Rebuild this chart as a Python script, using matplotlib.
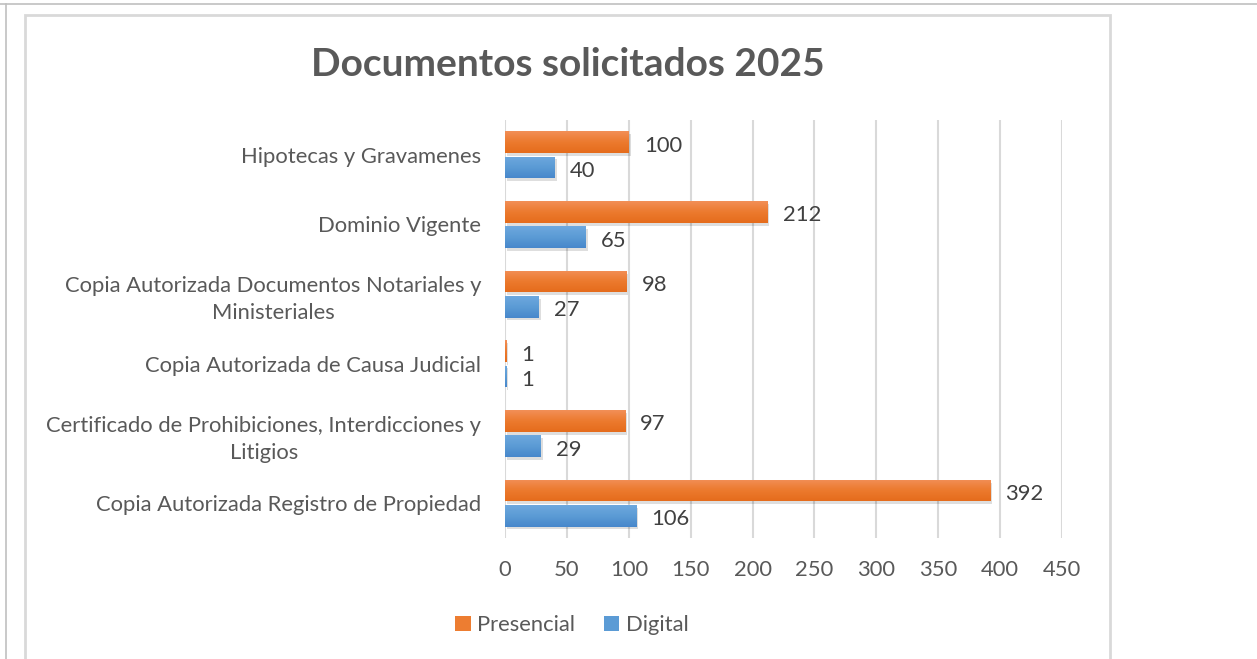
import numpy as np
import matplotlib.pyplot as plt
import matplotlib.patheffects as pe
from matplotlib.patches import Rectangle, Patch
from matplotlib.lines import Line2D
from matplotlib.colors import LinearSegmentedColormap

plt.rcParams['font.family'] = ['Lato', 'DejaVu Sans']

# data, top to bottom as in the chart
categorias = ['Hipotecas y Gravamenes',
              'Dominio Vigente',
              'Copia Autorizada Documentos Notariales y\nMinisteriales',
              'Copia Autorizada de Causa Judicial',
              'Certificado de Prohibiciones, Interdicciones y\nLitigios',
              'Copia Autorizada Registro de Propiedad']
presencial = [100, 212, 98, 1, 97, 392]
digital = [40, 65, 27, 1, 29, 106]
ticks_x = [0, 50, 100, 150, 200, 250, 300, 350, 400, 450]

W, H = 1257, 659
fs = 15.8
fig = plt.figure(figsize=(W / 100, H / 100), dpi=100)
fig.patch.set_facecolor('white')

# frames
fig.add_artist(Line2D([0, 1], [1 - 4 / H, 1 - 4 / H], transform=fig.transFigure, color='#c0c0c0', lw=1.2))
fig.add_artist(Line2D([6 / W, 6 / W], [0, 1 - 4 / H], transform=fig.transFigure, color='#c0c0c0', lw=1.2))
fig.add_artist(Rectangle((25 / W, -0.05), (1110 - 25) / W, 1.05 - 15 / H, transform=fig.transFigure,
                         fill=False, edgecolor='#d9d9d9', lw=2))

ax = fig.add_axes([505 / W, 1 - 538 / H, (1062 - 505) / W, (538 - 120) / H])
n = len(categorias)
y = np.arange(n)
off = 0.18
h = 0.31

cmap_o = LinearSegmentedColormap.from_list('o', ['#f28f57', '#ec7a2e', '#e56c1c'])
cmap_b = LinearSegmentedColormap.from_list('b', ['#6ea8de', '#5b9bd5', '#4787cb'])
grad = np.linspace(0, 1, 64).reshape(-1, 1)

shadow = [pe.SimplePatchShadow(offset=(1.5, -2), shadow_rgbFace='#000000', alpha=0.13), pe.Normal()]

def barras(vals, ys, color, cmap):
    bars = ax.barh(ys, vals, height=h, color=color, lw=0, zorder=3, path_effects=shadow)
    for b, v in zip(bars, vals):
        x0, y0 = b.get_x(), b.get_y()
        im = ax.imshow(grad, extent=(x0, x0 + b.get_width(), y0 + b.get_height(), y0),
                       cmap=cmap, aspect='auto', zorder=4, origin='upper')
        im.set_clip_path(b)
        ax.annotate(str(v), (v, b.get_y() + b.get_height() / 2), xytext=(11, -2.5),
                    textcoords='offset points', va='center', ha='left',
                    fontsize=fs, color='#404040', zorder=5)

barras(presencial, y - off, '#ed7d31', cmap_o)
barras(digital, y + off, '#5b9bd5', cmap_b)

ax.set_xlim(0, 450)
ax.set_ylim(n - 0.5, -0.5)
ax.set_xticks(ticks_x)
ax.set_xticklabels([str(t) for t in ticks_x])
ax.set_yticks(y)
ax.set_yticklabels(categorias, multialignment='center', linespacing=1.45)
ax.tick_params(axis='y', length=0, pad=17, labelsize=fs, labelcolor='#595959')
ax.tick_params(axis='x', length=0, pad=16, labelsize=fs, labelcolor='#595959')
ax.grid(axis='x', color='#d9d9d9', lw=1.5, zorder=0)
ax.set_axisbelow(True)
for s in ax.spines.values():
    s.set_visible(False)

fig.text(568 / W, 1 - 64 / H, 'Documentos solicitados 2025', ha='center', va='center',
         fontsize=28, fontweight='bold', color='#595959')

handles = [Patch(facecolor='#ed7d31', label='Presencial'), Patch(facecolor='#5b9bd5', label='Digital')]
fig.legend(handles=handles, loc='center', bbox_to_anchor=(572 / W, 1 - 625 / H), ncol=2,
           frameon=False, fontsize=fs, labelcolor='#595959', handlelength=0.7, handleheight=0.7,
           handletextpad=0.3, columnspacing=1.3)

fig.savefig('out.png', dpi=100)
